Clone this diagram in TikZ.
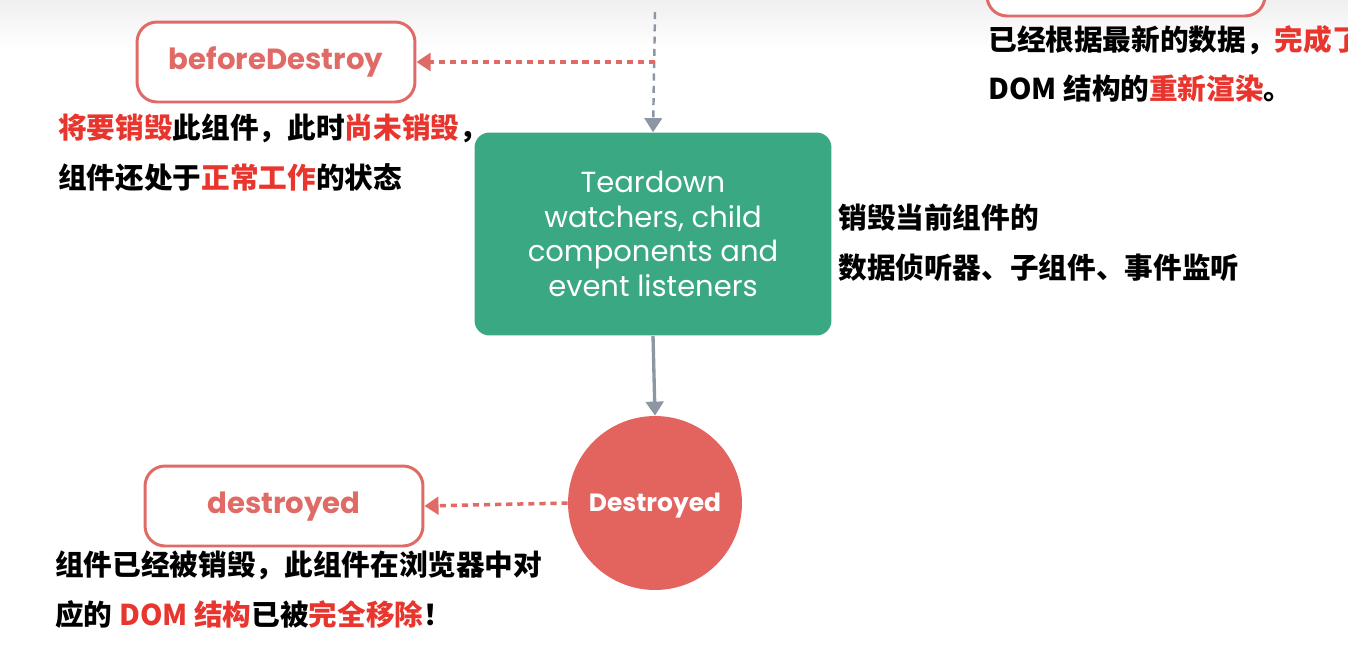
\documentclass[tikz,border=0pt]{standalone}
\usepackage{fontspec}
\setmainfont{Poppins}
\newfontfamily\cjk{Noto Sans CJK SC}
\usetikzlibrary{arrows.meta}
\definecolor{vuegreen}{HTML}{3AA883}
\definecolor{hookred}{HTML}{E06A66}
\definecolor{markred}{HTML}{E8352E}
\definecolor{linegray}{HTML}{8C97A3}
\definecolor{circred}{HTML}{E3645F}
\newcommand{\hl}[1]{\textcolor{markred}{#1}}

\begin{document}
\begin{tikzpicture}[
  x=0.02cm, y=-0.02cm,
  hookbox/.style={draw=hookred, line width=1.7pt, rounded corners=0.4cm, fill=white, minimum width=5.56cm, minimum height=1.6cm, text=hookred, text height=0.8em, text depth=0pt, font=\fontsize{16.6}{19}\selectfont\bfseries},
  stagebox/.style={fill=vuegreen, rounded corners=0.3cm, minimum width=7.14cm, minimum height=4.06cm, text=white, align=center, font=\fontsize{16.5}{19.8}\selectfont},
  endcircle/.style={circle, fill=circred, minimum size=3.48cm, inner sep=0pt, text=white, text height=1em, text depth=0pt, font=\fontsize{14.2}{16}\selectfont\bfseries},
  note/.style={anchor=west, align=left, inner sep=0pt, font=\cjk\bfseries\fontsize{16.3}{28.3}\selectfont},
  hookline/.style={hookred, line width=2pt, dash pattern=on 3.5pt off 2.8pt, -{Triangle[width=10pt, length=8pt]}},
  flowline/.style={linegray, line width=1.9pt, -{Triangle[width=10pt, length=8pt]}},
]
\clip (0,0) rectangle (1348,653);
\shade[top color=gray!12, bottom color=white] (0,0) rectangle (1348,50);
\useasboundingbox (0,0) rectangle (1348,653);

% previous hook, cut by the top edge
\node[hookbox] (updated) at (1126,-24) {};
\node[note] (updatednote) at (988,64) {已经根据最新的数据，\hl{完成了}\\DOM 结构的\hl{重新渲染}。};

% beforeDestroy
\coordinate (entry) at (655,12);
\coordinate (fork) at (655,62);
\node[hookbox] (before) at (276,62) {beforeDestroy};
\node[note] (beforenote) at (58,153) {\hl{将要销毁}此组件，此时\hl{尚未销毁}，\\组件还处于\hl{正常工作}的状态};

% teardown
\node[stagebox] (teardown) at (653,234) {Teardown\\watchers, child\\components and\\event listeners};
\node[note] (teardownnote) at (838,243) {销毁当前组件的\\数据侦听器、子组件、事件监听};

% destroyed
\node[endcircle] (gone) at (655,503) {Destroyed};
\node[hookbox] (after) at (284,506) {destroyed};
\node[note] (afternote) at (55,590) {组件已经被销毁，此组件在浏览器中对\\应的 \hl{DOM 结构}已被\hl{完全移除}！};

\draw[flowline, line width=1.4pt, dash pattern=on 4pt off 3pt] (entry) -- (teardown.north);
\draw[hookline] (fork) -- (before.east);
\draw[flowline] (teardown.south) -- (gone.north);
\draw[hookline] (gone.west) -- (after.east);
\end{tikzpicture}
\end{document}
